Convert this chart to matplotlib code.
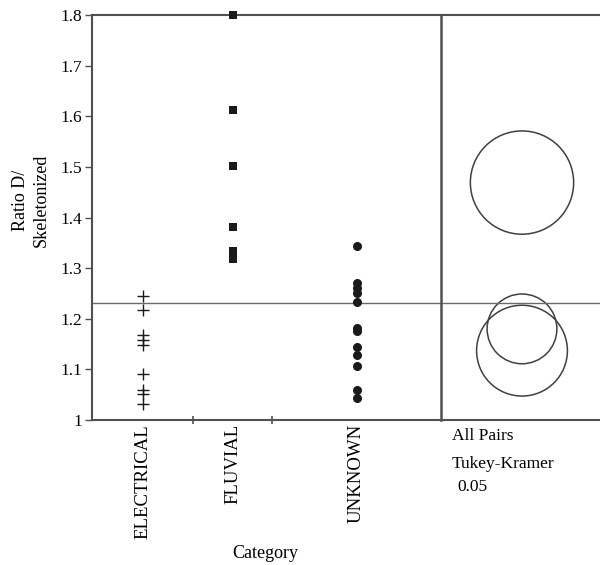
import matplotlib
matplotlib.use("Agg")
import matplotlib.pyplot as plt
from matplotlib.patches import Circle

plt.rcParams['font.family'] = ['Liberation Serif', 'DejaVu Serif']

# ---- data ----
categories = ["ELECTRICAL", "FLUVIAL", "UNKNOWN"]
electrical = [1.244, 1.218, 1.168, 1.158, 1.149, 1.090, 1.059, 1.052, 1.031]
fluvial = [1.800, 1.612, 1.502, 1.381, 1.334, 1.325, 1.318]
unknown = [1.344, 1.271, 1.261, 1.251, 1.233, 1.182, 1.175, 1.145, 1.129,
           1.106, 1.059, 1.043]
grand_mean = 1.231
# comparison circles (order: electrical, fluvial, unknown)
circle_centers = [1.137, 1.469, 1.180]
circle_radii = [0.0897, 0.102, 0.0689]
y_ticks = [1.0, 1.1, 1.2, 1.3, 1.4, 1.5, 1.6, 1.7, 1.8]
y_ticklabels = ["1", "1.1", "1.2", "1.3", "1.4", "1.5", "1.6", "1.7", "1.8"]

# ---- layout / style ----
W, H = 600, 565
cat_widths = [101, 79, 169]  # relative x-widths of categories
markers = [dict(marker='+', ms=8, mew=1.0),
           dict(marker='s', ms=6.3, mew=0),
           dict(marker='o', ms=6.5, mew=0)]
spine_c = '#505050'
mark_c = '#1a1a1a'

fig = plt.figure(figsize=(W / 100, H / 100), dpi=100)
L, R, T, B = 92, 441, 15, 420
ax2 = fig.add_axes([R / W, 1 - B / H, (W - R) / W + 0.01, (B - T) / H])
ax = fig.add_axes([L / W, 1 - B / H, (R - L) / W, (B - T) / H])
ax.patch.set_visible(False)
ax2.patch.set_visible(False)

ymin, ymax = 1.0, 1.8
ax.set_ylim(ymin, ymax)
ax2.set_ylim(ymin, ymax)

bounds = [0]
for w in cat_widths:
    bounds.append(bounds[-1] + w)
centers = [(bounds[i] + bounds[i + 1]) / 2 for i in range(3)]
ax.set_xlim(0, bounds[-1])

for i, vals in enumerate([electrical, fluvial, unknown]):
    ax.plot([centers[i]] * len(vals), vals, linestyle='none', color=mark_c,
            mec=mark_c, clip_on=False, zorder=5, **markers[i])

ax.axhline(grand_mean, color='#6a6a6a', lw=1.0)
ax2.axhline(grand_mean, color='#6a6a6a', lw=1.0)

# axes styling
for a in (ax, ax2):
    for s in a.spines.values():
        s.set_color(spine_c)
        s.set_linewidth(1.5)
ax2.spines['right'].set_visible(False)
ax2.spines['left'].set_visible(False)
ax.spines['right'].set_linewidth(1.8)

ax.set_yticks(y_ticks)
ax.set_yticklabels(y_ticklabels, fontsize=12.5)
ax.tick_params(axis='y', direction='out', length=5, width=1.0, color=spine_c, pad=2)

ax.set_xticks(centers)
ax.set_xticklabels(categories, rotation=90, fontsize=13.5, va='top')
ax.tick_params(axis='x', which='major', length=0, pad=3)
ax.set_xticks(bounds[1:-1], minor=True)
ax.tick_params(axis='x', which='minor', direction='inout', length=6, width=1.2, color=spine_c)

ax2.set_xticks([])
ax2.set_yticks([])

# circles: keep them round by matching px-per-unit
px_per_unit = (B - T) / (ymax - ymin)
ax2_w_px = (W - R) + 0.01 * W
ax2.set_xlim(0, ax2_w_px / px_per_unit)
cx = 81 / px_per_unit
for c, r in zip(circle_centers, circle_radii):
    ax2.add_patch(Circle((cx, c), r, fill=False, ec='#404040', lw=1.1))

# texts
fig.text(31 / W, 1 - 200 / H, "Ratio D/\nSkeletonized", rotation=90,
         ha='center', va='center', multialignment='center', fontsize=13,
         linespacing=1.25)
fig.text(265 / W, 1 - 553 / H, "Category", ha='center', va='center', fontsize=13)
fig.text(452 / W, 1 - 440 / H, "All Pairs", ha='left', va='baseline', fontsize=12.5)
fig.text(452 / W, 1 - 468 / H, "Tukey-Kramer", ha='left', va='baseline', fontsize=12.5)
fig.text(457 / W, 1 - 491 / H, "0.05", ha='left', va='baseline', fontsize=12.5)

fig.savefig("out.png", dpi=100)
